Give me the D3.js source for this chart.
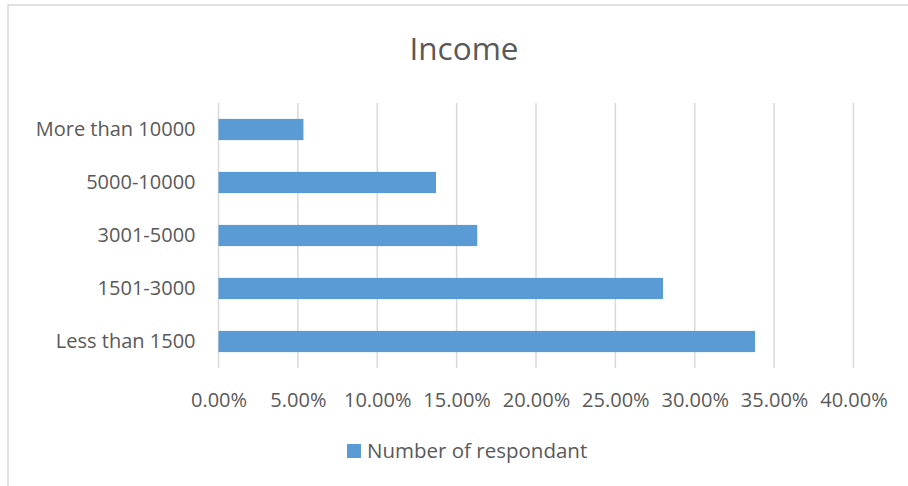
<!DOCTYPE html>
<html><head><meta charset="utf-8">
<script src="https://cdn.jsdelivr.net/npm/d3@7/dist/d3.min.js"></script>
<style>body{margin:0;background:#fff}svg text{font-family:"Open Sans","Noto Sans",sans-serif;fill:#595959}</style>
</head><body><svg id="c" width="908" height="486"></svg>
<script>
const categories = ["More than 10000","5000-10000","3001-5000","1501-3000","Less than 1500"];
const values = [0.0535, 0.137, 0.163, 0.280, 0.338];
const ticks = [0,0.05,0.10,0.15,0.20,0.25,0.30,0.35,0.40];
const seriesName = "Number of respondant";
const title = "Income";

const svg = d3.select("#c");
svg.append("rect").attr("x",8).attr("y",5).attr("width",920).attr("height",500)
  .attr("fill","#fff").attr("stroke","#D9D9D9").attr("stroke-width",1.5);

const x = d3.scaleLinear().domain([0,0.40]).range([218.5,853.5]);
const y = d3.scaleBand().domain(categories).range([103,368]).paddingInner(0.6).paddingOuter(0.3);

svg.append("g").selectAll("line").data(ticks).join("line")
  .attr("x1",d=>x(d)).attr("x2",d=>x(d)).attr("y1",103).attr("y2",368)
  .attr("stroke","#D9D9D9").attr("stroke-width",1.5);

svg.append("g").selectAll("rect").data(values).join("rect")
  .attr("x",x(0)).attr("y",(d,i)=>y(categories[i]))
  .attr("width",d=>x(d)-x(0)).attr("height",y.bandwidth())
  .attr("fill","#5B9BD5");

const yAxis = svg.append("g").attr("transform",`translate(${x(0)},0)`)
  .call(d3.axisLeft(y).tickSize(0).tickPadding(23));
yAxis.select(".domain").remove();
yAxis.selectAll("text").attr("font-size",20).attr("dy","0.3em").style("fill","#595959");

const xAxis = svg.append("g").attr("transform","translate(0,407)")
  .call(d3.axisBottom(x).tickValues(ticks).tickSize(0).tickPadding(0).tickFormat(d3.format(".2%")));
xAxis.select(".domain").remove();
xAxis.selectAll("text").attr("font-size",20).attr("dy","0").style("fill","#595959");

svg.append("text").attr("x",464).attr("y",59.5).attr("text-anchor","middle")
  .attr("font-size",31.5).text(title);

svg.append("rect").attr("x",347).attr("y",444).attr("width",14).attr("height",14).attr("fill","#5B9BD5");
svg.append("text").attr("x",367).attr("y",458).attr("font-size",20.5).text(seriesName);
</script></body></html>
